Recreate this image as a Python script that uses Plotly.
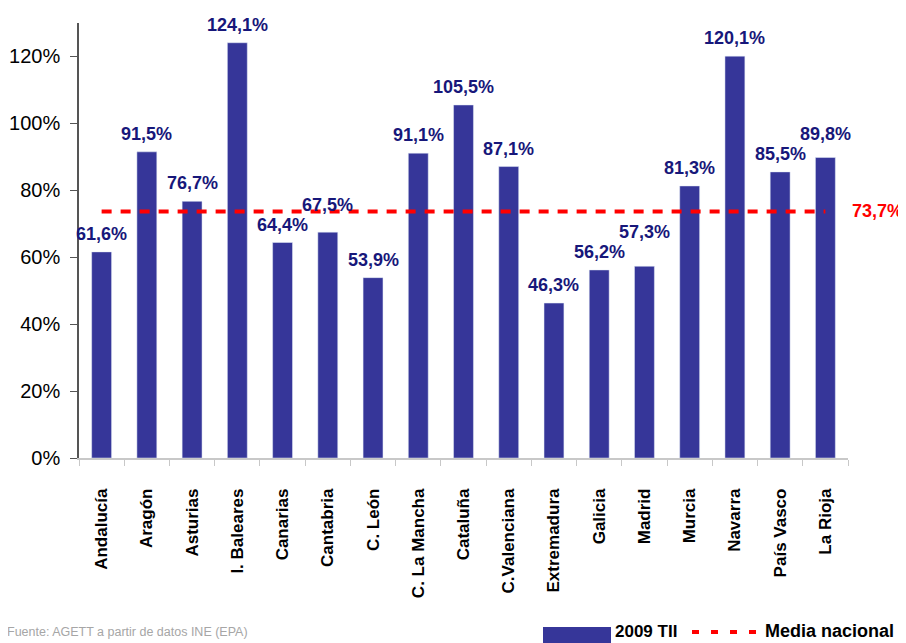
import plotly.graph_objects as go

regions = ["Andalucía", "Aragón", "Asturias", "I. Baleares", "Canarias", "Cantabria",
           "C. León", "C. La Mancha", "Cataluña", "C.Valenciana", "Extremadura", "Galicia",
           "Madrid", "Murcia", "Navarra", "País Vasco", "La Rioja"]
values_2009_tii = [61.6, 91.5, 76.7, 124.1, 64.4, 67.5, 53.9, 91.1, 105.5, 87.1, 46.3, 56.2,
                   57.3, 81.3, 120.1, 85.5, 89.8]
media_nacional = 73.7
y_ticks = [0, 20, 40, 60, 80, 100, 120]
Y_MAX = 130

# page body margin offset (8px) compensation
OFF = 8
W, H = 906 - OFF, 643 - OFF
L, R, T, B = 79 - OFF, 58, 23 - OFF, 185
PW, PH = W - L - R, H - T - B
PX_PER_UNIT = PH / Y_MAX


def px(x):  # window pixel -> paper x
    return (x - OFF - L) / PW


def py(y):  # window pixel -> paper y
    return (H - B - (y - OFF)) / PH


def fmt(v):
    return f"{v:.1f}".replace(".", ",") + "%"


fig = go.Figure()
fig.add_trace(go.Bar(
    x=regions, y=values_2009_tii, marker_color="#363699", width=0.44,
    name="2009 TII", showlegend=False,
))
fig.add_trace(go.Scatter(
    x=regions, y=[media_nacional] * len(regions), mode="lines",
    line=dict(color="#ff0000", width=4, dash="10px,9px"),
    name="Media nacional", showlegend=False,
))

# value labels: placed above bars, raised when colliding with the previous label
annotations = []
BASE_GAP, TEXT_H, RAISE = 18, 18, 20
prev_center = None
for r, v in zip(regions, values_2009_tii):
    center = v * PX_PER_UNIT + BASE_GAP  # pixels above the baseline
    if prev_center is not None and abs(center - prev_center) < TEXT_H:
        center = prev_center + RAISE
    prev_center = center
    annotations.append(dict(
        x=r, y=v, text=fmt(v), showarrow=False, yanchor="middle",
        yshift=center - v * PX_PER_UNIT,
        font=dict(family="Arial, Liberation Sans", size=18, color="#17177a", weight="bold"),
    ))
annotations.append(dict(
    xref="paper", x=1, y=media_nacional, text=fmt(media_nacional), showarrow=False,
    xanchor="left", xshift=2, yanchor="middle",
    font=dict(family="Arial, Liberation Sans", size=18, color="#ff0000", weight="bold"),
))
annotations.append(dict(
    xref="paper", yref="paper", x=px(5), y=py(632), text="Fuente: AGETT a partir de datos INE (EPA)",
    showarrow=False, xanchor="left", yanchor="middle",
    font=dict(family="Liberation Sans Narrow, Arial Narrow, Arial", size=12.5, color="#a6a6a6"),
))
annotations.append(dict(
    xref="paper", yref="paper", x=px(613), y=py(631), text="2009 TII",
    showarrow=False, xanchor="left", yanchor="middle",
    font=dict(family="Arial, Liberation Sans", size=17, color="#000000", weight="bold"),
))
annotations.append(dict(
    xref="paper", yref="paper", x=px(763), y=py(631), text="Media nacional",
    showarrow=False, xanchor="left", yanchor="middle",
    font=dict(family="Arial, Liberation Sans", size=18, color="#000000", weight="bold"),
))

shapes = [
    dict(type="rect", xref="paper", yref="paper", x0=px(543), x1=px(611), y0=py(627), y1=py(645),
         fillcolor="#363699", line=dict(width=0)),
    dict(type="line", xref="paper", yref="paper", x0=px(692), x1=px(758), y0=py(632), y1=py(632),
         line=dict(color="#ff0000", width=4, dash="7px,12px")),
]

fig.update_layout(
    width=W, height=H,
    margin=dict(l=L, r=R, t=T, b=B, autoexpand=False),
    paper_bgcolor="white", plot_bgcolor="white",
    bargap=0.56,
    annotations=annotations,
    shapes=shapes,
    font=dict(family="Arial, Liberation Sans", color="#000000"),
    xaxis=dict(
        type="category", tickangle=-90, tickson="boundaries", ticks="outside", ticklen=6,
        tickcolor="#c8c8c8", showline=True, linecolor="#c8c8c8", linewidth=1.5,
        showgrid=False, ticklabelstandoff=22, automargin=False,
        tickfont=dict(family="Arial, Liberation Sans", size=17, color="#000000", weight="bold"),
        range=[-0.5, len(regions) - 0.5],
    ),
    yaxis=dict(
        range=[0, Y_MAX], tickvals=y_ticks, ticktext=[f"{t}%" for t in y_ticks],
        ticks="outside", ticklen=7, tickcolor="#555555", showline=True, linecolor="#555555",
        linewidth=1.5, showgrid=False, zeroline=False, ticklabelstandoff=6, automargin=False,
        tickfont=dict(family="Arial, Liberation Sans", size=20, color="#000000"),
    ),
)

fig.write_html("out.html")
